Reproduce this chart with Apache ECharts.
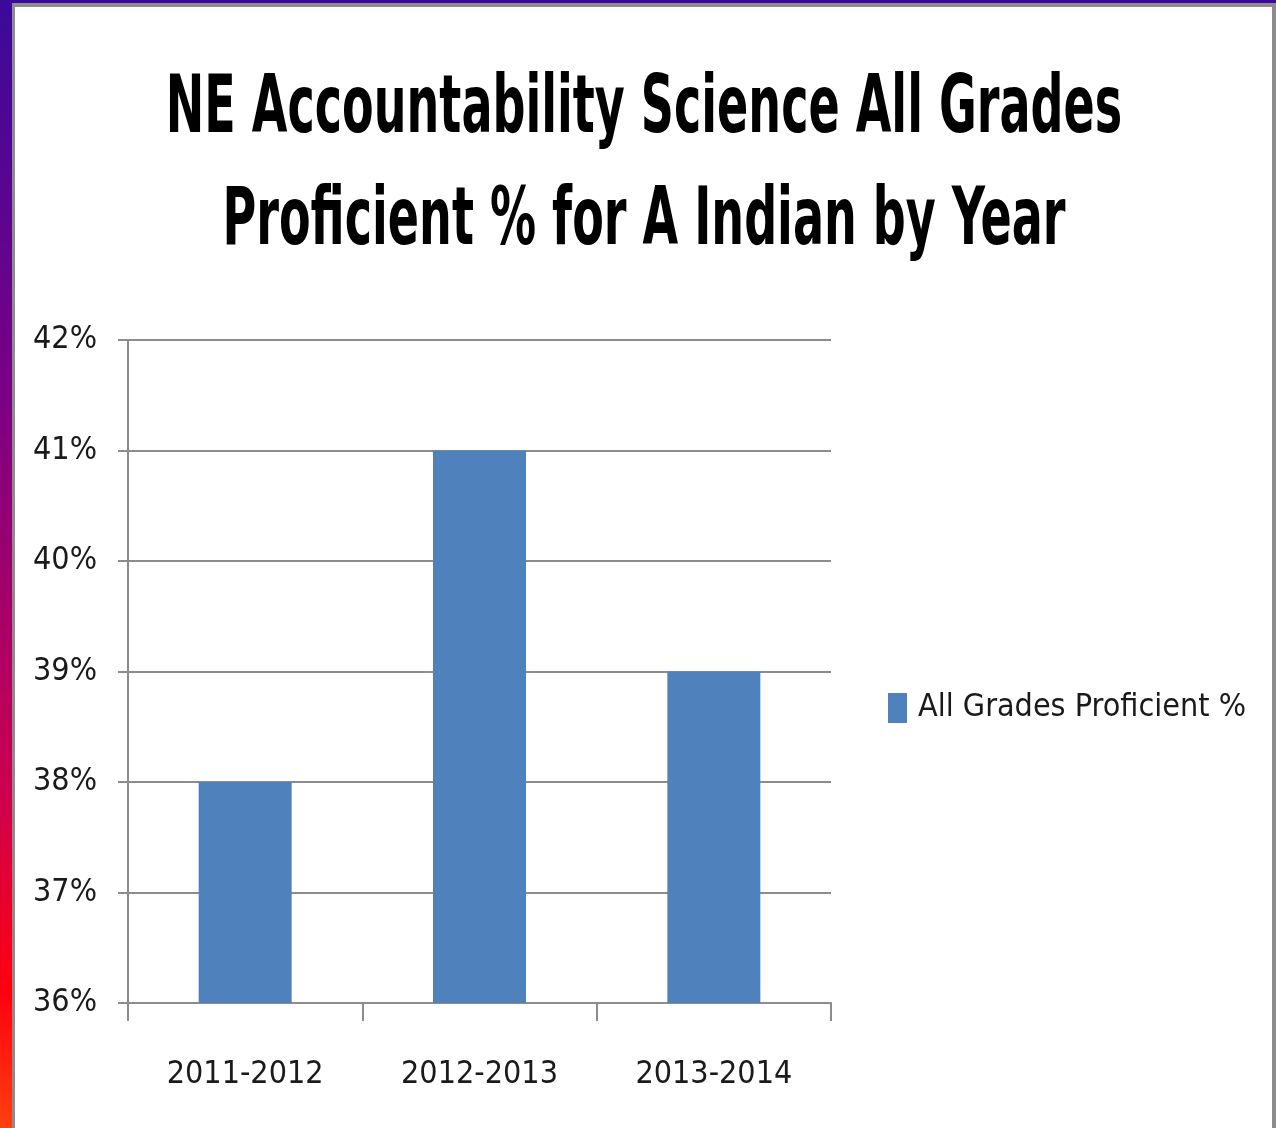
<!DOCTYPE html>
<html>
<head>
<meta charset="utf-8">
<style>
  html, body { margin: 0; padding: 0; background: #fff; }
  #chart { width: 1276px; height: 1128px; }
</style>
<script src="https://cdn.jsdelivr.net/npm/echarts@6/dist/echarts.min.js"></script>
</head>
<body>
<div id="chart"></div>
<script>
// data
const years = ['2011-2012', '2012-2013', '2013-2014'];
const proficient = [38, 41, 39];
const seriesName = 'All Grades Proficient %';
const titleLines = ['NE Accountability Science All Grades', 'Proficient % for A Indian by Year'];

const font = '"DejaVu Sans Condensed", "Liberation Sans Narrow", sans-serif';
const chart = echarts.init(document.getElementById('chart'));

// title is drawn as squeezed text so the narrow bold face of the original fits
function titleText(text, y) {
  return {
    type: 'text',
    x: 644,
    y: y,
    scaleX: 0.64,
    silent: true,
    style: {
      text: text,
      fontFamily: font,
      fontWeight: 'bold',
      fontSize: 80,
      fill: '#000',
      textAlign: 'center',
      textVerticalAlign: 'middle',
    },
  };
}

chart.setOption({
  backgroundColor: '#fff',
  animation: false,
  legend: {
    orient: 'vertical',
    left: 888,
    top: 686,
    padding: 0,
    icon: 'rect',
    itemWidth: 19,
    itemHeight: 30,
    data: [seriesName],
    textStyle: {
      fontFamily: font,
      fontSize: 32,
      lineHeight: 44,
      color: '#1a1a1a',
      padding: [0, 0, 0, 6],
    },
  },
  grid: {
    left: 128,
    right: 445,
    top: 340,
    bottom: 125,
  },
  xAxis: {
    type: 'category',
    data: years,
    axisLine: { show: true, lineStyle: { color: '#8c8c8c', width: 2 } },
    axisTick: { show: true, interval: 0, length: 18, lineStyle: { color: '#8c8c8c', width: 2 } },
    axisLabel: {
      interval: 0,
      margin: 56,
      fontFamily: font,
      fontSize: 32,
      color: '#1a1a1a',
    },
  },
  yAxis: {
    type: 'value',
    min: 36,
    max: 42,
    interval: 1,
    axisLine: { show: true, lineStyle: { color: '#8c8c8c', width: 2 } },
    axisTick: { show: true, length: 10, lineStyle: { color: '#8c8c8c', width: 2 } },
    splitLine: { lineStyle: { color: '#8c8c8c', width: 2 } },
    axisLabel: {
      margin: 31,
      formatter: '{value}%',
      fontFamily: font,
      fontSize: 32,
      color: '#1a1a1a',
    },
  },
  series: [
    {
      name: seriesName,
      type: 'bar',
      data: proficient,
      barWidth: 93,
      itemStyle: { color: '#4f81bd' },
    },
  ],
  graphic: [
    {
      type: 'rect',
      shape: { x: 0, y: 0, width: 12, height: 1128 },
      style: {
        fill: {
          type: 'linear', x: 0, y: 0, x2: 0, y2: 1,
          colorStops: [
            { offset: 0, color: '#3a0a9a' },
            { offset: 0.35, color: '#7a0084' },
            { offset: 0.7, color: '#cc0050' },
            { offset: 0.88, color: '#ff0010' },
            { offset: 1, color: '#ff4010' },
          ],
        },
      },
      silent: true,
    },
    { type: 'rect', shape: { x: 12, y: 3, width: 3, height: 1125 }, style: { fill: '#8c8c8c' }, silent: true },
    { type: 'rect', shape: { x: 0, y: 0, width: 1276, height: 3 }, style: { fill: '#3a0a9a' }, silent: true },
    { type: 'rect', shape: { x: 12, y: 3, width: 1264, height: 4 }, style: { fill: '#8c8c8c' }, silent: true },
    { type: 'rect', shape: { x: 1272, y: 3, width: 4, height: 1125 }, style: { fill: '#8c8c8c' }, silent: true },
    titleText(titleLines[0], 111),
    titleText(titleLines[1], 223),
  ],
});
</script>
</body>
</html>
